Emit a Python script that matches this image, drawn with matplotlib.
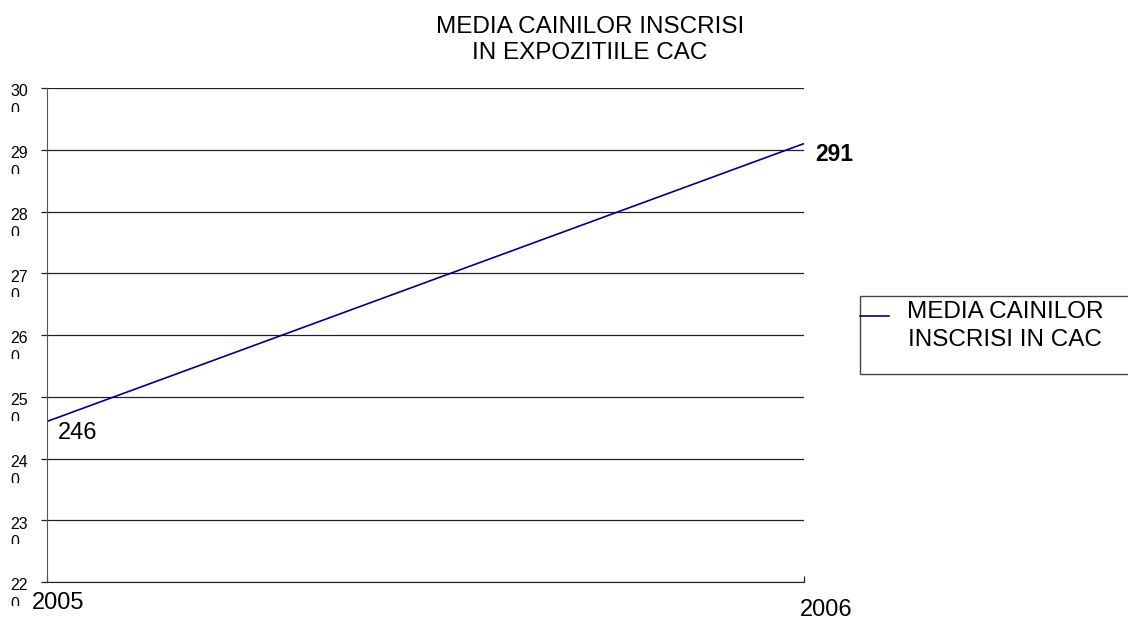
import matplotlib
matplotlib.use("Agg")
import matplotlib.pyplot as plt
from matplotlib.lines import Line2D
from matplotlib.patches import Rectangle
from matplotlib.transforms import Bbox, TransformedBbox, blended_transform_factory

# data
years = [2005, 2006]
media_caini = [246, 291]
y_ticks = [220, 230, 240, 250, 260, 270, 280, 290, 300]
title_text = "MEDIA CAINILOR INSCRISI\nIN EXPOZITIILE CAC"
series_label = "MEDIA CAINILOR\nINSCRISI IN CAC"

plt.rcParams["font.family"] = ["Liberation Sans", "DejaVu Sans"]

fig = plt.figure(figsize=(11.28, 6.21), dpi=100)
W, H = 1128, 621
ax = fig.add_axes([47 / W, 1 - 582 / H, (804 - 47) / W, (582 - 88) / H])

line_color = "#000080"
ax.plot(years, media_caini, color=line_color, linewidth=1.2, solid_capstyle="butt")

ax.set_xlim(years[0], years[-1])
ax.set_ylim(y_ticks[0], y_ticks[-1])
ax.set_yticks(y_ticks)
ax.set_xticks(years)
ax.set_yticklabels([])
ax.set_xticklabels([])
ax.yaxis.grid(True, color="#222222", linewidth=0.9)
ax.set_axisbelow(True)
ax.tick_params(axis="y", length=4, width=0.9, color="#222222", direction="out")
ax.tick_params(axis="x", length=4, width=0.9, color="#222222", direction="in")
ax.spines["top"].set_visible(False)
ax.spines["right"].set_visible(False)
ax.spines["left"].set_color("#555555")
ax.spines["bottom"].set_color("#222222")

# y labels wrapped like "30" / "0", the second line cut off
trans = blended_transform_factory(ax.transAxes, ax.transData)
px = 1.0 / (804 - 47)
for v in y_ticks:
    s = str(v)
    t = ax.text(-37 * px, v + 0.6, s[:-1] + "\n" + s[-1], transform=trans,
                ha="left", va="top", fontsize=11.5, linespacing=1.3,
                color="black")
    t.set_clip_on(True)
    t.set_clip_box(TransformedBbox(Bbox([[-1, v - 3.9], [0, v + 3.0]]), trans))

# x labels
x_offsets = [(-15, -10), (-4, -17)]
for yr, (dx, dy) in zip(years, x_offsets):
    ax.annotate(str(yr), xy=(yr, y_ticks[0]), xytext=(dx, dy),
                textcoords="offset pixels", ha="left", va="top",
                fontsize=17, annotation_clip=False)

# value labels
ax.annotate(str(media_caini[0]), xy=(years[0], media_caini[0]), xytext=(11, -1),
            textcoords="offset pixels", ha="left", va="top", fontsize=17,
            annotation_clip=False)
ax.annotate(str(media_caini[1]), xy=(years[1], media_caini[1]), xytext=(11, 1),
            textcoords="offset pixels", ha="left", va="top", fontsize=16.5,
            fontweight="bold", annotation_clip=False)

# title
fig.text(590 / W, 1 - 40 / H, title_text, ha="center", va="center",
         fontsize=17.5, linespacing=1.22)

# legend box
fig.patches.append(Rectangle((860 / W, 1 - 374 / H), 300 / W, 78 / H,
                             transform=fig.transFigure, facecolor="white",
                             edgecolor="#444444", linewidth=1))
fig.lines.append(Line2D([860 / W, 889 / W], [1 - 316 / H, 1 - 316 / H],
                        transform=fig.transFigure, color=line_color, linewidth=1.2))
fig.text(1005 / W, 1 - 326 / H, series_label, ha="center", va="center",
         multialignment="center", fontsize=17.5, linespacing=1.3)

fig.savefig("out.png", dpi=100)
